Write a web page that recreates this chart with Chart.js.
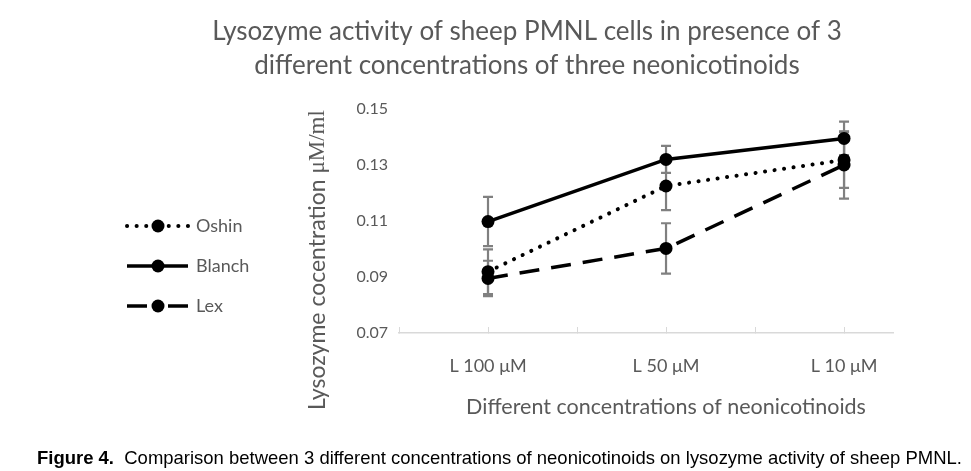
<!DOCTYPE html>
<html><head><meta charset="utf-8">
<script src="https://cdn.jsdelivr.net/npm/chart.js@4.4.1/dist/chart.umd.min.js"></script>
<style>
html,body{margin:0;padding:0;background:#fff;}
#wrap{position:relative;width:971px;height:471px;overflow:hidden;background:#fff;}
#c{position:absolute;left:0;top:0;}
#cap{position:absolute;left:37px;top:447px;font-family:'Liberation Sans',Arial,sans-serif;font-size:19px;color:#000;white-space:nowrap;line-height:22px;transform-origin:0 50%;}
#cap b{font-weight:bold;}
</style></head><body>
<div id="wrap"><canvas id="c" width="971" height="471"></canvas>
<div id="cap"><b>Figure 4.</b>&nbsp; Comparison between 3 different concentrations of neonicotinoids on lysozyme activity of sheep PMNL.</div></div>
<script>
// ---- data ----
const titleLines = ['Lysozyme activity of sheep PMNL cells in presence of 3', 'different concentrations of three neonicotinoids'];
const xTitle = 'Different concentrations of neonicotinoids';
const yTitleText = 'Lysozyme cocentration ';
const yTitleUnit = 'μM/ml';
const categories = ['L 100 μM', 'L 50 μM', 'L 10 μM'];
const seriesNames = ['Oshin', 'Blanch', 'Lex'];
const oshin = [0.0919, 0.1225, 0.1318];
const oshinErr = [0.0080, 0.0086, 0.0100];
const blanch = [0.1098, 0.1320, 0.1395];
const blanchErr = [0.0088, 0.0048, 0.0060];
const lex = [0.0895, 0.1002, 0.1300];
const lexErr = [0.0063, 0.0090, 0.0120];
const yMin = 0.07, yMax = 0.15, yStep = 0.02;

// ---- caption: condense to the reference width ----
(function () {
  const cap = document.getElementById('cap');
  const w = cap.getBoundingClientRect().width;
  cap.style.transform = 'scaleX(' + (925 / w) + ')';
})();

// ---- styling ----
const SANS = 'Lato';
const TXT = '#595959';
const toPts = arr => arr.map((v, i) => ({x: 2 * i + 1, y: v}));
const lineStyles = [
  {borderDash: [0.1, 9.5], borderCapStyle: 'round', borderWidth: 4},
  {borderDash: [], borderCapStyle: 'butt', borderWidth: 3.5},
  {borderDash: [20, 12], borderCapStyle: 'butt', borderWidth: 3.5}
];
const values = [oshin, blanch, lex];
const errs = [oshinErr, blanchErr, lexErr];

const datasets = seriesNames.map((name, k) => Object.assign({
  label: name,
  data: toPts(values[k]),
  errors: errs[k],
  borderColor: '#000',
  backgroundColor: '#000',
  pointBackgroundColor: '#000',
  pointBorderColor: '#000',
  pointRadius: 6.5,
  pointBorderWidth: 0,
  tension: 0,
  fill: false
}, lineStyles[k]));

const decor = {
  id: 'decor',
  beforeDatasetsDraw(chart) {
    const ctx = chart.ctx, ys = chart.scales.y;
    ctx.save();
    ctx.strokeStyle = '#808080';
    ctx.lineWidth = 2.2;
    ctx.setLineDash([]);
    chart.data.datasets.forEach((ds, di) => {
      const meta = chart.getDatasetMeta(di);
      ds.errors.forEach((e, i) => {
        const pt = meta.data[i];
        const v = ds.data[i].y;
        const yt = ys.getPixelForValue(v + e), yb = ys.getPixelForValue(v - e);
        ctx.beginPath();
        ctx.moveTo(pt.x, yt); ctx.lineTo(pt.x, yb);
        ctx.moveTo(pt.x - 5, yt); ctx.lineTo(pt.x + 5, yt);
        ctx.moveTo(pt.x - 5, yb); ctx.lineTo(pt.x + 5, yb);
        ctx.stroke();
      });
    });
    ctx.restore();
  },
  afterDraw(chart) {
    const ctx = chart.ctx;
    ctx.save();
    ctx.fillStyle = TXT;
    ctx.textBaseline = 'middle';
    // main title
    ctx.textAlign = 'center';
    ctx.font = '26px ' + SANS;
    ctx.fillText(titleLines[0], 527, 32);
    ctx.fillText(titleLines[1], 527, 66);
    // x title
    ctx.font = '21.5px ' + SANS;
    ctx.fillText(xTitle, 666, 407);
    // y title (rotated, mixed fonts)
    ctx.save();
    ctx.translate(318, 260);
    ctx.rotate(-Math.PI / 2);
    ctx.textAlign = 'left';
    const f1 = '23px ' + SANS, f2 = '23px "Liberation Serif", serif';
    ctx.font = f1; const w1 = ctx.measureText(yTitleText).width;
    ctx.font = f2; const w2 = ctx.measureText(yTitleUnit).width;
    const x0 = -(w1 + w2) / 2;
    ctx.font = f1; ctx.fillText(yTitleText, x0, 0);
    ctx.font = f2; ctx.fillText(yTitleUnit, x0 + w1, 0);
    ctx.restore();
    // legend
    const ly = [226, 266, 306];
    chart.data.datasets.forEach((ds, k) => {
      const y = ly[k];
      ctx.strokeStyle = '#000';
      ctx.lineWidth = ds.borderWidth;
      ctx.lineCap = ds.borderCapStyle;
      ctx.setLineDash(ds.borderDash);
      ctx.beginPath(); ctx.moveTo(127, y); ctx.lineTo(158, y); ctx.stroke();
      ctx.beginPath(); ctx.moveTo(188, y); ctx.lineTo(158, y); ctx.stroke();
      ctx.setLineDash([]);
      ctx.fillStyle = '#000';
      ctx.beginPath(); ctx.arc(158, y, 6.5, 0, Math.PI * 2); ctx.fill();
      ctx.fillStyle = TXT;
      ctx.font = '18px ' + SANS;
      ctx.textAlign = 'left';
      ctx.fillText(ds.label, 196, y);
    });
    ctx.restore();
  }
};

Chart.defaults.font.family = SANS;
Chart.defaults.color = TXT;

new Chart(document.getElementById('c'), {
  type: 'line',
  data: {datasets},
  options: {
    responsive: false,
    animation: false,
    devicePixelRatio: 1,
    layout: {padding: {left: 0, right: 78, top: 109, bottom: 0}},
    plugins: {legend: {display: false}, title: {display: false}, tooltip: {enabled: false}},
    scales: {
      x: {
        type: 'linear',
        min: 0, max: 5.55,
        grid: {drawOnChartArea: false, drawTicks: true, tickLength: -6, color: '#d9d9d9', lineWidth: 1},
        border: {display: true, color: '#d9d9d9', width: 1.5},
        ticks: {
          stepSize: 1, includeBounds: false, autoSkip: false, maxRotation: 0,
          padding: 28, color: TXT, font: {size: 18, family: SANS},
          callback: v => (v % 2 === 1 ? categories[(v - 1) / 2] : '')
        },
        afterFit: s => { s.height = 471 - 333; }
      },
      y: {
        min: yMin, max: yMax,
        grid: {display: false, drawTicks: false},
        border: {display: false},
        ticks: {stepSize: yStep, padding: 11, color: TXT, font: {size: 16, family: SANS},
          callback: v => Number(v).toFixed(2)},
        afterFit: s => { s.width = 399; }
      }
    }
  },
  plugins: [decor]
});
</script>
</body></html>
